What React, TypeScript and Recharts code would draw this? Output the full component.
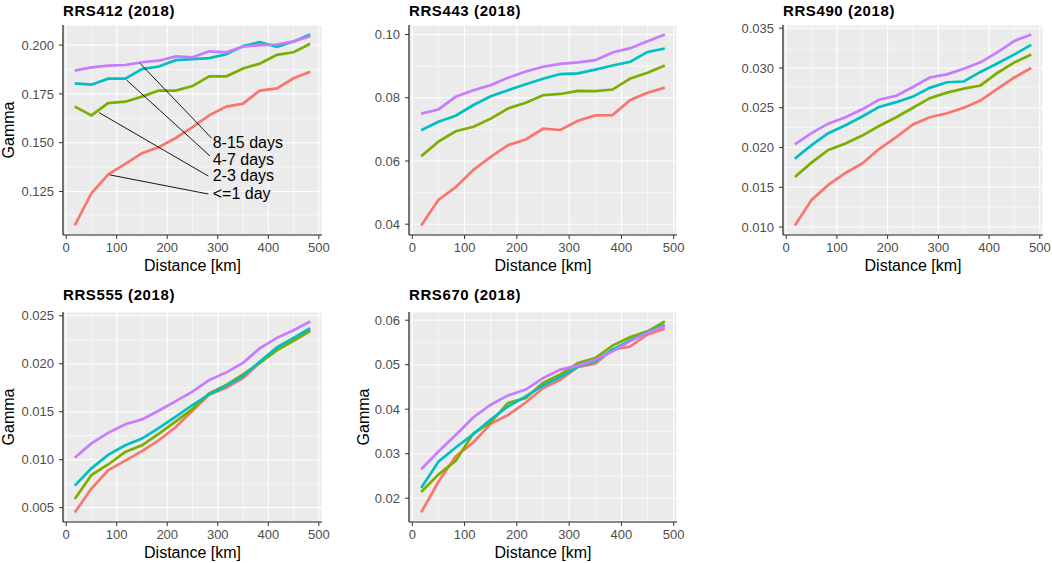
import React from "react";
import {
  LineChart,
  Line,
  XAxis,
  YAxis,
  CartesianGrid,
  ReferenceLine,
  ReferenceDot,
} from "recharts";

// lag classes (legend order) and ggplot default hues
const groups = ["<=1 day", "2-3 days", "4-7 days", "8-15 days"];
const colors = ["#F8766D", "#7CAE00", "#00BFC4", "#C77CFF"];

// distance bins [km]
const distance = [17, 50, 83, 117, 150, 183, 217, 250, 283, 317, 350, 383, 417, 450, 483];
const distTicks = [0, 100, 200, 300, 400, 500];
const distMinor = [50, 150, 250, 350, 450];

// RRS412
const rrs412Day1 = [0.1076, 0.1241, 0.1337, 0.1391, 0.1446, 0.1477, 0.1524, 0.158, 0.164, 0.1685, 0.17, 0.1767, 0.1778, 0.183, 0.1864];
const rrs412Day3 = [0.1685, 0.164, 0.1703, 0.171, 0.1736, 0.1767, 0.1767, 0.179, 0.184, 0.184, 0.188, 0.1905, 0.195, 0.1963, 0.2007];
const rrs412Day7 = [0.1804, 0.1797, 0.1828, 0.1828, 0.1877, 0.189, 0.1923, 0.1928, 0.1933, 0.1953, 0.1995, 0.2015, 0.1991, 0.2018, 0.2054];
const rrs412Day15 = [0.1869, 0.1886, 0.1895, 0.1898, 0.1912, 0.192, 0.1942, 0.1937, 0.1968, 0.1963, 0.1992, 0.2, 0.2003, 0.2019, 0.2045];
const rrs412Ticks = [0.125, 0.15, 0.175, 0.2];
const rrs412Minor = [0.1125, 0.1375, 0.1625, 0.1875];

// RRS443
const rrs443Day1 = [0.0396, 0.0477, 0.0517, 0.0572, 0.0613, 0.065, 0.0668, 0.0702, 0.0698, 0.0727, 0.0744, 0.0745, 0.0793, 0.0816, 0.0832];
const rrs443Day3 = [0.0615, 0.0661, 0.0694, 0.0708, 0.0734, 0.0766, 0.0784, 0.0808, 0.0812, 0.0822, 0.0821, 0.0826, 0.0861, 0.0879, 0.0902];
const rrs443Day7 = [0.0697, 0.0724, 0.0743, 0.0777, 0.0805, 0.0824, 0.0843, 0.086, 0.0875, 0.0877, 0.0889, 0.0902, 0.0914, 0.0945, 0.0956];
const rrs443Day15 = [0.075, 0.0763, 0.0803, 0.0824, 0.084, 0.0863, 0.0883, 0.0898, 0.0907, 0.0912, 0.0919, 0.0943, 0.0957, 0.0979, 0.1];
const rrs443Ticks = [0.04, 0.06, 0.08, 0.1];
const rrs443Minor = [0.05, 0.07, 0.09];

// RRS490
const rrs490Day1 = [0.0102, 0.0134, 0.0153, 0.0168, 0.018, 0.0198, 0.0213, 0.0229, 0.0238, 0.0243, 0.025, 0.0259, 0.0274, 0.0288, 0.03];
const rrs490Day3 = [0.0163, 0.0181, 0.0197, 0.0205, 0.0215, 0.0227, 0.0238, 0.025, 0.0262, 0.0269, 0.0274, 0.0278, 0.0294, 0.0307, 0.0317];
const rrs490Day7 = [0.0186, 0.0203, 0.0218, 0.0228, 0.0239, 0.0251, 0.0257, 0.0264, 0.0275, 0.0282, 0.0283, 0.0295, 0.0306, 0.0317, 0.0329];
const rrs490Day15 = [0.0204, 0.0218, 0.023, 0.0238, 0.0248, 0.026, 0.0265, 0.0276, 0.0288, 0.0292, 0.0299, 0.0307, 0.032, 0.0334, 0.0342];
const rrs490Ticks = [0.01, 0.015, 0.02, 0.025, 0.03, 0.035];
const rrs490Minor = [0.0125, 0.0175, 0.0225, 0.0275, 0.0325];

// RRS555
const rrs555Day1 = [0.0045, 0.007, 0.0089, 0.0099, 0.0109, 0.012, 0.0134, 0.0151, 0.0168, 0.0175, 0.0185, 0.0201, 0.0215, 0.0225, 0.0235];
const rrs555Day3 = [0.0059, 0.0084, 0.0095, 0.0108, 0.0115, 0.0127, 0.014, 0.0153, 0.0169, 0.0178, 0.0189, 0.0201, 0.0214, 0.0224, 0.0234];
const rrs555Day7 = [0.0073, 0.0091, 0.0105, 0.0115, 0.0122, 0.0133, 0.0145, 0.0157, 0.0168, 0.0177, 0.0187, 0.0202, 0.0217, 0.0227, 0.0237];
const rrs555Day15 = [0.0102, 0.0117, 0.0128, 0.0137, 0.0142, 0.0151, 0.0161, 0.0171, 0.0183, 0.0191, 0.0201, 0.0216, 0.0227, 0.0235, 0.0244];
const rrs555Ticks = [0.005, 0.01, 0.015, 0.02, 0.025];
const rrs555Minor = [0.0075, 0.0125, 0.0175, 0.0225];

// RRS670
const rrs670Day1 = [0.0168, 0.0237, 0.0294, 0.0326, 0.0367, 0.0387, 0.0415, 0.0447, 0.0466, 0.0495, 0.0502, 0.0534, 0.0541, 0.0568, 0.0581];
const rrs670Day3 = [0.0214, 0.0253, 0.0284, 0.0346, 0.037, 0.0414, 0.0425, 0.0459, 0.0478, 0.0504, 0.0515, 0.0543, 0.0562, 0.0575, 0.0597];
const rrs670Day7 = [0.0223, 0.0282, 0.0314, 0.0344, 0.0377, 0.0406, 0.0429, 0.0453, 0.0472, 0.0496, 0.0508, 0.0534, 0.0555, 0.0573, 0.0589];
const rrs670Day15 = [0.0265, 0.0305, 0.0342, 0.0382, 0.041, 0.0431, 0.0444, 0.047, 0.0489, 0.0498, 0.0511, 0.053, 0.0553, 0.0572, 0.0587];
const rrs670Ticks = [0.02, 0.03, 0.04, 0.05, 0.06];
const rrs670Minor = [0.015, 0.025, 0.035, 0.045, 0.055];

// repelled labels in the RRS412 panel (data units)
const labelText = ["8-15 days", "4-7 days", "2-3 days", "<=1 day"];
const labelFromKm = [145.9, 119.5, 65.2, 86.4];
const labelFromVal = [0.1907, 0.1821, 0.1654, 0.1335];
const labelToKm = [288, 284.6, 281.3, 281.3];
const labelToVal = [0.1523, 0.1432, 0.1329, 0.1237];
const labelTextKm = 290;
const labelTextVal = [0.1504, 0.1416, 0.1331, 0.1242];

const FONT = '"Liberation Sans", Arial, Helvetica, sans-serif';
const Y_W = 63;
const TOP = 25;
const PLOT_H = 210;
const X_H = 40;
const RIGHT = 15;

const panels = [
  { title: "RRS412 (2018)", series: [rrs412Day1, rrs412Day3, rrs412Day7, rrs412Day15], ticks: rrs412Ticks, minor: rrs412Minor, digits: 3, left: 63, top: 25, width: 259, gamma: 8.3, labels: true },
  { title: "RRS443 (2018)", series: [rrs443Day1, rrs443Day3, rrs443Day7, rrs443Day15], ticks: rrs443Ticks, minor: rrs443Minor, digits: 2, left: 409, top: 25, width: 268 },
  { title: "RRS490 (2018)", series: [rrs490Day1, rrs490Day3, rrs490Day7, rrs490Day15], ticks: rrs490Ticks, minor: rrs490Minor, digits: 3, left: 783, top: 25, width: 260 },
  { title: "RRS555 (2018)", series: [rrs555Day1, rrs555Day3, rrs555Day7, rrs555Day15], ticks: rrs555Ticks, minor: rrs555Minor, digits: 3, left: 63, top: 312, width: 259, gamma: 8.3 },
  { title: "RRS670 (2018)", series: [rrs670Day1, rrs670Day3, rrs670Day7, rrs670Day15], ticks: rrs670Ticks, minor: rrs670Minor, digits: 2, left: 409, top: 312, width: 268, gamma: 17.3 },
];

// ggplot-style 5% expansion
const expand = (vals) => {
  const lo = Math.min(...vals);
  const hi = Math.max(...vals);
  const r = hi - lo;
  return [lo - r * 0.05, hi + r * 0.05];
};

const xDomain = expand(distance);
const tickStyle = { fill: "#4D4D4D", fontSize: 13 };

const Panel = ({ p }) => {
  const rows = distance.map((d, i) => {
    const row = { distance: d };
    p.series.forEach((s, k) => {
      row[groups[k]] = s[i];
    });
    return row;
  });
  const yDomain = expand(p.series.flat());

  return (
    <div style={{ position: "absolute", left: p.left - Y_W, top: p.top - TOP }}>
      <div
        style={{
          position: "absolute",
          left: Y_W,
          top: p.top > 100 ? -0.5 : 2.5,
          fontSize: 15,
          fontWeight: "bold",
          letterSpacing: 0.6,
          lineHeight: 1,
          whiteSpace: "nowrap",
          color: "#000",
        }}
      >
        {p.title}
      </div>
      <LineChart
        width={Y_W + p.width + RIGHT}
        height={TOP + PLOT_H + X_H}
        data={rows}
        margin={{ top: TOP, right: RIGHT, bottom: 0, left: 0 }}
      >
        <CartesianGrid
          fill="#EBEBEB"
          stroke="#FFFFFF"
          strokeWidth={0.55}
          horizontalValues={p.minor}
          verticalValues={distMinor}
        />
        <CartesianGrid stroke="#FFFFFF" strokeWidth={1.1} />
        <XAxis
          type="number"
          dataKey="distance"
          domain={xDomain}
          ticks={distTicks}
          allowDataOverflow
          height={X_H}
          tick={tickStyle}
          tickSize={4}
          tickMargin={4}
          tickLine={{ stroke: "#333333" }}
          axisLine={{ stroke: "#1A1A1A", strokeWidth: 1.2 }}
          label={{ value: "Distance [km]", position: "insideBottom", offset: 4.3, fill: "#000", fontSize: 16 }}
        />
        <YAxis
          type="number"
          domain={yDomain}
          ticks={p.ticks}
          allowDataOverflow
          width={Y_W}
          tick={tickStyle}
          tickSize={4}
          tickMargin={5}
          tickLine={{ stroke: "#333333" }}
          axisLine={{ stroke: "#1A1A1A", strokeWidth: 1.2 }}
          tickFormatter={(v) => v.toFixed(p.digits)}
          label={
            p.gamma !== undefined
              ? { value: "Gamma", angle: -90, position: "insideLeft", offset: p.gamma, fill: "#000", fontSize: 16, style: { textAnchor: "middle" } }
              : undefined
          }
        />
        {groups.map((g, k) => (
          <Line
            key={g}
            type="linear"
            dataKey={g}
            stroke={colors[k]}
            strokeWidth={2.7}
            dot={false}
            activeDot={false}
            isAnimationActive={false}
          />
        ))}
        {p.labels &&
          labelText.map((t, k) => (
            <ReferenceLine
              key={"seg" + k}
              segment={[
                { x: labelFromKm[k], y: labelFromVal[k] },
                { x: labelToKm[k], y: labelToVal[k] },
              ]}
              stroke="#000"
              strokeWidth={0.9}
            />
          ))}
        {p.labels &&
          labelText.map((t, k) => (
            <ReferenceDot
              key={"lab" + k}
              x={labelTextKm}
              y={labelTextVal[k]}
              r={0}
              fill="none"
              stroke="none"
              label={{ value: t, position: "right", offset: 0, fill: "#000", fontSize: 16 }}
            />
          ))}
      </LineChart>
    </div>
  );
};

const App = () => {
  return (
    <div
      style={{
        position: "absolute",
        left: 0,
        top: 0,
        width: 1052,
        height: 563,
        overflow: "hidden",
        background: "#FFFFFF",
        fontFamily: FONT,
      }}
    >
      {panels.map((p) => (
        <Panel key={p.title} p={p} />
      ))}
    </div>
  );
};

export default App;
